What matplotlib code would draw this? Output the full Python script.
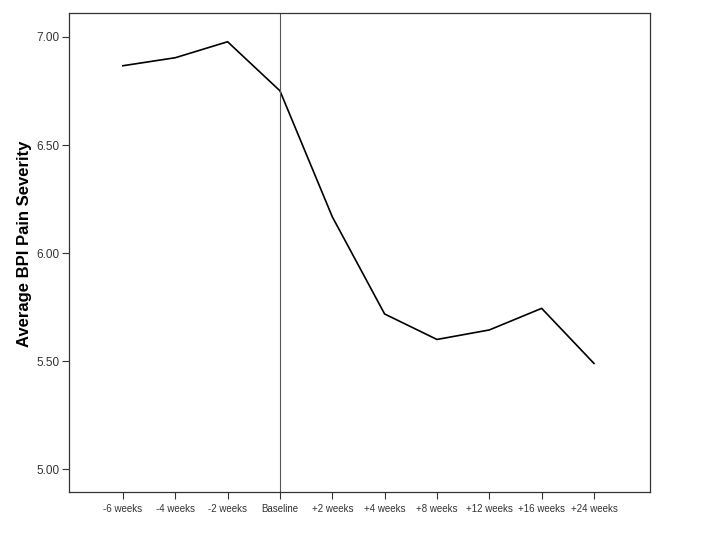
import matplotlib
matplotlib.use("Agg")
import matplotlib.pyplot as plt
import numpy as np

# time points and mean BPI pain severity
labels = ['-6 weeks', '-4 weeks', '-2 weeks', 'Baseline', '+2 weeks',
          '+4 weeks', '+8 weeks', '+12 weeks', '+16 weeks', '+24 weeks']
severity = [6.867, 6.904, 6.978, 6.751, 6.168, 5.718, 5.600, 5.644, 5.744, 5.489]
yticks = [5.00, 5.50, 6.00, 6.50, 7.00]

plt.rcParams['font.family'] = ['Liberation Sans', 'DejaVu Sans']

fig = plt.figure(figsize=(7.2, 5.4), dpi=100)
ax = fig.add_axes([0.0958, 0.0889, 0.807, 0.887])

x = np.arange(len(labels))
ax.plot(x, severity, color='black', lw=1.2)
ax.axvline(labels.index('Baseline'), color='#555555', lw=0.8)

ax.set_xlim(-1.03, 10.07)
ax.set_ylim(4.894, 7.111)
ax.set_xticks(x)
ax.set_xticklabels(labels, fontsize=7, color='#333333')
ax.set_yticks(yticks)
ax.set_yticklabels(['%.2f' % v for v in yticks], fontsize=8.5, color='#333333')
ax.tick_params(direction='out', length=5, width=0.8, color='#333333')
ax.tick_params(axis='y', pad=2)
ax.set_ylabel('Average BPI Pain Severity', fontsize=12, fontweight='bold')
ax.yaxis.set_label_coords(-0.063, 0.518)
for s in ax.spines.values():
    s.set_color('#333333')
    s.set_linewidth(0.9)

fig.savefig('out.png', dpi=100)
